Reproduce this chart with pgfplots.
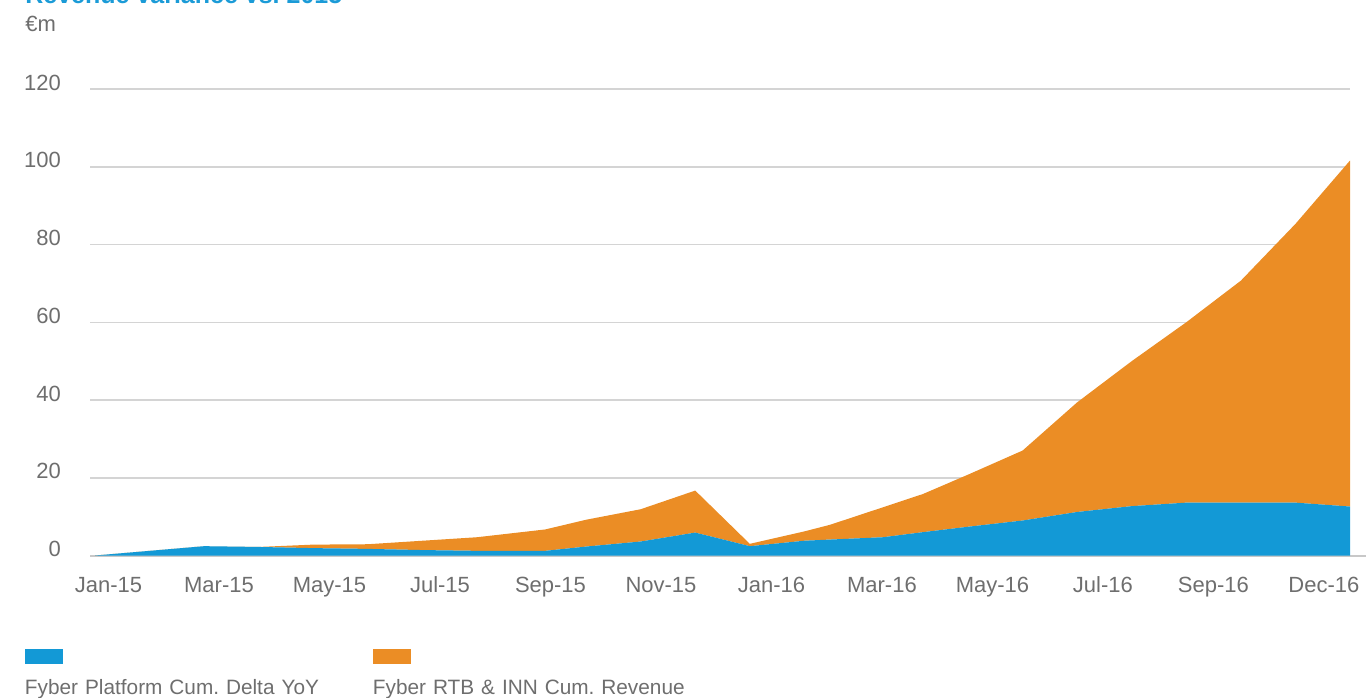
\documentclass[border=0pt]{standalone}
\usepackage{fontspec}
\setmainfont{Liberation Sans}
\usepackage{pgfplots}
\usepackage{pgfplotstable}
\pgfplotsset{compat=1.18}
\definecolor{fblue}{RGB}{19,153,214}
\definecolor{forange}{RGB}{235,141,37}
\definecolor{txtgray}{RGB}{110,110,110}
\definecolor{gridgray}{RGB}{212,212,212}
\definecolor{basegray}{RGB}{200,200,200}
\definecolor{titleblue}{RGB}{27,155,215}

% x = month position (0 = Jan-15), platform = blue, rtb = orange (stacked)
\pgfplotstableread{
x      platform rtb
0      0.0   0.0
1      1.2   0.0
2      2.4   0.0
3      2.2   0.0
4      1.9   0.9
5      1.7   1.2
6      1.4   2.4
7      1.2   3.5
8.25   1.2   5.5
9      2.3   6.9
10     3.6   8.3
11     5.9   10.8
12     2.4   0.6
13     3.8   2.4
13.47  4.1   3.8
14.44  4.7   7.7
15.17  6.0   9.8
16     7.4   13.4
17     9.0   18.0
18     11.2  28.2
19     12.7  37.3
20     13.6  46.4
21     13.6  57.1
22     13.6  71.7
23     12.6  89.0
}\datatable

\begin{document}
\begin{tikzpicture}[x=1pt,y=1pt]
\begin{axis}[
  at={(0,0)}, anchor=south west,
  scale only axis, width=630pt, height=233.25pt,
  xmin=-0.092, xmax=23, ymin=0, ymax=120,
  stack plots=y,
  clip=false,
  axis line style={draw=none},
  major tick style={draw=none},
  ymajorgrids,
  grid style={gridgray, line width=0.75pt},
  ytick={0,20,...,120},
  xtick={0.247,2.272,4.297,6.322,8.347,10.372,12.397,14.422,16.447,18.472,20.497,22.522},
  xticklabels={Jan-15,Mar-15,May-15,Jul-15,Sep-15,Nov-15,Jan-16,Mar-16,May-16,Jul-16,Sep-16,Dec-16},
  tick label style={font=\fontsize{11}{13}\selectfont, text=txtgray},
  yticklabel style={anchor=base east, xshift=-11.0pt, yshift=-0.5pt},
  xticklabel style={anchor=base, yshift=-18.25pt},
  /pgf/number format/assume math mode=true,
  legend columns=2,
  legend style={
    draw=none, fill=none, inner sep=0pt, outer sep=0pt,
    at={(axis description cs:-0.0516,-0.299)}, anchor=south west,
    font=\fontsize{10.4}{12}\selectfont, text=txtgray,
    nodes={inner sep=0pt, outer sep=0pt, text depth=0pt},
    column sep=0pt,
    /tikz/every even column/.append style={text width=174pt, align=left},
  },
  legend cell align=left,
]
\addplot[fill=fblue, draw=none,
  legend image code/.code={\fill[fblue, overlay] (0pt,11.5pt) rectangle (19pt,19pt);}]
  table[x=x, y=platform] {\datatable} \closedcycle;
\addlegendentry{Fyber Platform Cum.\ Delta YoY}
\addplot[fill=forange, draw=none,
  legend image code/.code={\fill[forange, overlay] (0pt,11.5pt) rectangle (19pt,19pt);}]
  table[x=x, y=rtb] {\datatable} \closedcycle;
\addlegendentry{Fyber RTB \& INN Cum.\ Revenue}
\draw[basegray, line width=1pt] (rel axis cs:0,0) -- ([xshift=8pt]rel axis cs:1,0);
\end{axis}
\node[anchor=base west, inner sep=0pt, font=\fontsize{12.5}{15}\bfseries\selectfont, text=titleblue] at (-32.5pt,275.75pt) {Revenue variance vs.\ 2015};
\node[anchor=base west, inner sep=0pt, font=\fontsize{11}{13}\selectfont, text=txtgray] at (-32.5pt,261.75pt) {€m};
\pgfresetboundingbox
\path[use as bounding box] (-45pt,-70.75pt) rectangle (638pt,277.75pt);
\end{tikzpicture}
\end{document}
